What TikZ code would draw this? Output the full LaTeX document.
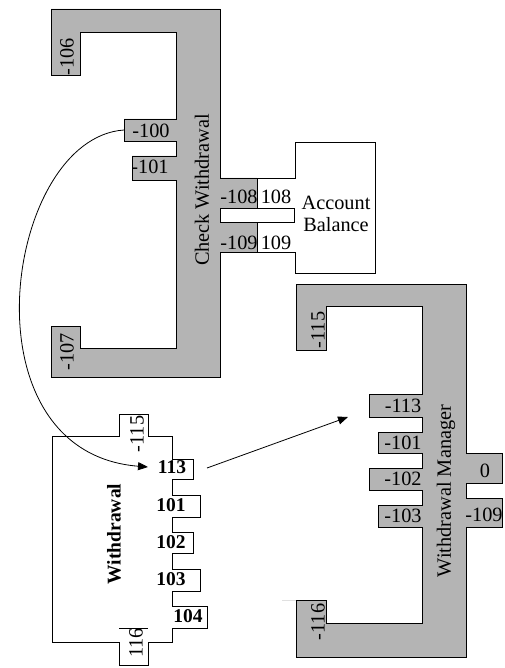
\documentclass[tikz,border=0pt]{standalone}
\usepackage{fontspec}
\setmainfont{Liberation Serif}
\usetikzlibrary{arrows.meta}
\definecolor{boxgray}{RGB}{180,180,180}
\tikzset{
  grayshape/.style={draw=black, fill=boxgray, line width=0.9pt, line join=miter},
  whiteshape/.style={draw=black, fill=white, line width=0.9pt, line join=miter},
  lbl/.style={inner sep=0pt, font=\fontsize{20.3}{22.5}\selectfont},
  blbl/.style={inner sep=0pt, font=\fontsize{19.5}{22}\selectfont\bfseries},
  rlbl/.style={lbl, rotate=90},
  conn/.style={draw=black, line width=0.8pt, -{Triangle[length=10pt,width=8pt]}}
}
\begin{document}
\begin{tikzpicture}[x=1pt,y=-1pt]
\useasboundingbox (0,0) rectangle (505,668);

% Check Withdrawal
\draw[grayshape] (51,9) -- (220,9) -- (220,178) -- (257,178) -- (257,208) -- (220,208)
  -- (220,222) -- (257,222) -- (257,252) -- (220,252) -- (220,377) -- (51,377)
  -- (51,326) -- (80,326) -- (80,348) -- (176,348) -- (176,180) -- (132,180)
  -- (132,156) -- (176,156) -- (176,141) -- (124,141) -- (124,119) -- (176,119)
  -- (176,32) -- (80,32) -- (80,75) -- (51,75) -- cycle;

% Account Balance
\draw[whiteshape] (295,142) -- (375,142) -- (375,273) -- (295,273) -- (295,252)
  -- (257,252) -- (257,222) -- (294,222) -- (294,208) -- (257,208) -- (257,178)
  -- (295,178) -- cycle;

% Withdrawal Manager
\draw[grayshape] (296,284) -- (466,284) -- (466,453) -- (502,453) -- (502,483)
  -- (466,483) -- (466,498) -- (502,498) -- (502,527) -- (466,527) -- (466,657)
  -- (296,657) -- (296,600) -- (326,600) -- (326,623) -- (422,623) -- (422,527)
  -- (378,527) -- (378,505) -- (422,505) -- (422,490) -- (369,490) -- (369,468)
  -- (422,468) -- (422,453) -- (378,453) -- (378,432) -- (422,432) -- (422,417)
  -- (369,417) -- (369,394) -- (422,394) -- (422,306) -- (326,306) -- (326,350)
  -- (296,350) -- cycle;
\draw[black!12, line width=0.8pt] (282,600) -- (296,600);

% Withdrawal
\draw[whiteshape] (52,436) -- (119,436) -- (119,414) -- (148,414) -- (148,436)
  -- (172,436) -- (172,459) -- (193,459) -- (193,479) -- (172,479) -- (172,495)
  -- (200,495) -- (200,517) -- (172,517) -- (172,532) -- (193,532) -- (193,553)
  -- (172,553) -- (172,569) -- (200,569) -- (200,591) -- (172,591) -- (172,606)
  -- (207,606) -- (207,628) -- (172,628) -- (172,642) -- (148,642) -- (148,665)
  -- (119,665) -- (119,642) -- (52,642) -- cycle;
\draw[line width=0.8pt] (119,628) -- (148,628);

% Check Withdrawal labels
\node[rlbl] (cw) at (202,190) {Check Withdrawal};
\node[rlbl] (c106) at (67,57) {-106};
\node[rlbl] (c107) at (67,352) {-107};
\node[lbl] (c100) at (151,131) {-100};
\node[lbl] (c101) at (150,167) {-101};
\node[lbl] (c108) at (239,197) {-108};
\node[lbl] (c109) at (239,243) {-109};

% Account Balance labels
\node[lbl] (a108) at (276,197) {108};
\node[lbl] (a109) at (276,243) {109};
\node[lbl, align=center] (ab) at (336,214) {Account\\Balance};

% Withdrawal Manager labels
\node[rlbl] (wm) at (446,491) {Withdrawal Manager};
\node[rlbl] (m115) at (318,330) {-115};
\node[rlbl] (m116) at (318,622) {-116};
\node[lbl] (m113) at (403,406) {-113};
\node[lbl] (m101) at (403,443) {-101};
\node[lbl] (m102) at (403,479) {-102};
\node[lbl] (m103) at (403,516) {-103};
\node[lbl] (m0) at (485,471) {0};
\node[lbl] (m109) at (484,515) {-109};

% Withdrawal labels
\node[blbl, rotate=90] (w) at (114,534) {Withdrawal};
\node[rlbl] (w115) at (137,434) {-115};
\node[rlbl] (w116) at (136,643) {116};
\node[blbl] (w113) at (172,467) {113};
\node[blbl] (w101) at (171,505) {101};
\node[blbl] (w102) at (171,542) {102};
\node[blbl] (w103) at (171,579) {103};
\node[blbl] (w104) at (188,616) {104};

% connector endpoints
\coordinate (p100) at (124,130);
\coordinate (q113) at (148,467);
\coordinate (r113) at (207,468);
\coordinate (s113) at (348,417);

\draw[conn] (p100) .. controls (5,138) and (-40,452) .. (q113);
\draw[conn] (r113) -- (s113);
\end{tikzpicture}
\end{document}
